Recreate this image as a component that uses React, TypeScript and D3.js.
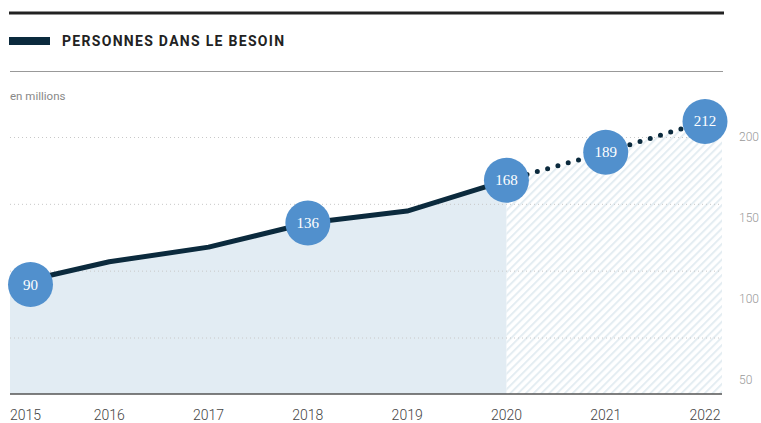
import * as d3 from "d3";

const years = [2015, 2016, 2017, 2018, 2019, 2020, 2021, 2022];
const values = [90, 107, 118, 136, 145, 168, 189, 212];
const labelled = [2015, 2018, 2020, 2021, 2022];
const forecastFrom = 2020;
const yTicks = [200, 150, 100, 50];

const title = "PERSONNES DANS LE BESOIN";
const unit = "en millions";

function App() {
  const width = 761;
  const height = 423;
  const plotLeft = 10;
  const plotRight = 722;
  const baseline = 394;
  const r = 22.5;
  const navy = "#0b2a3d";
  const blue = "#5190cd";

  const x = d3.scaleLinear().domain([2015, 2022]).range([plotLeft, 705]);
  const y = d3.scaleLinear().domain([50, 200]).range([338, 137.5]);
  // tick labels on the right sit on their own spacing in the original
  const yLabel = d3.scaleLinear().domain([50, 200]).range([380, 137]);

  const data = years.map((year, i) => ({ year, value: values[i] }));
  const past = data.filter((d) => d.year <= forecastFrom);
  const future = data.filter((d) => d.year >= forecastFrom);
  const last = data[data.length - 1];

  const line = d3
    .line<{ year: number; value: number }>()
    .x((d) => x(d.year))
    .y((d) => y(d.value));

  const area = d3
    .area<[number, number]>()
    .x((d) => d[0])
    .y0(baseline)
    .y1((d) => d[1]);

  const pastArea = past.map((d) => [x(d.year), y(d.value)] as [number, number]);
  const futureArea = future
    .map((d) => [x(d.year), y(d.value)] as [number, number])
    .concat([[plotRight, y(last.value)]]);

  return (
    <div style={{ position: "absolute", left: 0, top: 0 }}>
      <svg width={width} height={height} style={{ display: "block" }}>
        <defs>
          <pattern
            id="hatch"
            patternUnits="userSpaceOnUse"
            width={5.5}
            height={5.5}
            patternTransform="rotate(45)"
          >
            <line x1={1} y1={0} x2={1} y2={5.5} stroke="#e4edf2" strokeWidth={2} />
          </pattern>
        </defs>

        <line x1={9} x2={724} y1={13} y2={13} stroke="#222" strokeWidth={3} />
        <rect x={9} y={37} width={41} height={8} fill={navy} />
        <text
          x={62}
          y={46}
          fontFamily="Roboto, sans-serif"
          fontWeight={700}
          fontSize={14}
          letterSpacing={1.3}
          fill="#222"
        >
          {title}
        </text>
        <line x1={10} x2={723} y1={71.5} y2={71.5} stroke="#999" strokeWidth={1.2} />
        <text x={10} y={100} fontFamily="Roboto, sans-serif" fontSize={11.5} fill="#888">
          {unit}
        </text>

        <path d={area(pastArea) ?? ""} fill="#e2ecf3" />
        <path d={area(futureArea) ?? ""} fill="url(#hatch)" />

        <g stroke="#c8c8c8" strokeWidth={1} strokeDasharray="1 3">
          {yTicks.map((t) => (
            <line key={t} x1={plotLeft} x2={plotRight} y1={y(t)} y2={y(t)} />
          ))}
        </g>

        <line x1={plotLeft} x2={plotRight} y1={baseline} y2={baseline} stroke="#555" strokeWidth={1.5} />

        <path d={line(past) ?? ""} fill="none" stroke={navy} strokeWidth={5} strokeLinejoin="round" />
        <path
          d={line(future) ?? ""}
          fill="none"
          stroke={navy}
          strokeWidth={5}
          strokeLinecap="round"
          strokeDasharray="0 10.7"
        />

        {data
          .filter((d) => labelled.includes(d.year))
          .map((d) => (
            <g key={d.year} transform={`translate(${Math.max(x(d.year), r + 8)},${y(d.value)})`}>
              <circle r={r} fill={blue} />
              <text
                textAnchor="middle"
                dominantBaseline="central"
                fontFamily="'Liberation Serif', serif"
                fontSize={15}
                fill="#fff"
              >
                {d.value}
              </text>
            </g>
          ))}

        <g fontFamily="Roboto, sans-serif" fontSize={14} fontWeight={300} fill="#444">
          {years.map((yr, i) => (
            <text key={yr} x={x(yr)} y={420} textAnchor={i === 0 ? "start" : "middle"}>
              {yr}
            </text>
          ))}
        </g>

        <g fontFamily="Roboto, sans-serif" fontSize={12} fontWeight={300} fill="#999">
          {yTicks.map((t) => (
            <text key={t} x={739} y={yLabel(t)} dominantBaseline="central">
              {t}
            </text>
          ))}
        </g>
      </svg>
    </div>
  );
}

export default App;
